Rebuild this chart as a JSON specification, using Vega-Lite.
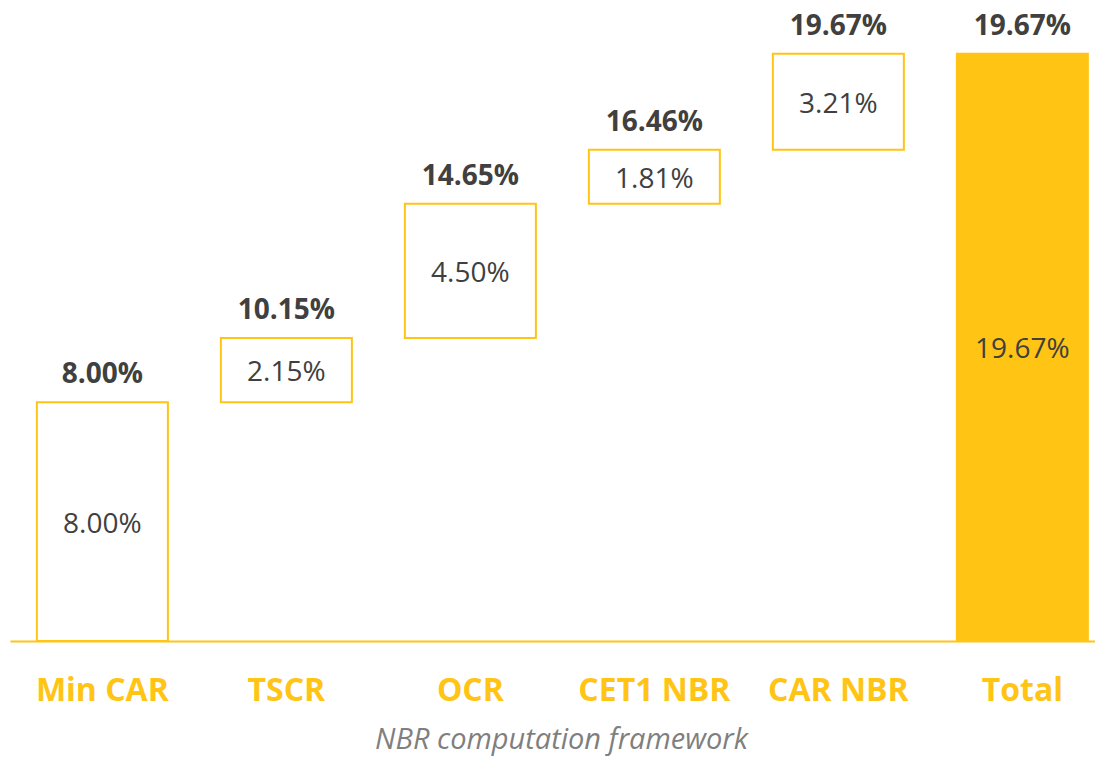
{
  "$schema": "https://vega.github.io/schema/vega-lite/v6.json",
  "width": 1085,
  "height": 597,
  "autosize": {"type": "none"},
  "padding": {"left": 10, "top": 44, "right": 0, "bottom": 116},
  "background": "white",
  "config": {"view": {"stroke": null}, "font": "Open Sans"},
  "data": {
    "values": [
      {"cat": "Min CAR", "start": 0, "end": 0.08, "delta": 0.08},
      {"cat": "TSCR", "start": 0.08, "end": 0.1015, "delta": 0.0215},
      {"cat": "OCR", "start": 0.1015, "end": 0.1465, "delta": 0.045},
      {"cat": "CET1 NBR", "start": 0.1465, "end": 0.1646, "delta": 0.0181},
      {"cat": "CAR NBR", "start": 0.1646, "end": 0.1967, "delta": 0.0321},
      {"cat": "Total", "start": 0, "end": 0.1967, "delta": 0.1967}
    ]
  },
  "encoding": {
    "x": {
      "field": "cat",
      "type": "nominal",
      "sort": ["Min CAR", "TSCR", "OCR", "CET1 NBR", "CAR NBR", "Total"],
      "scale": {"paddingInner": 0.288, "paddingOuter": 0.0924, "align": 0.79},
      "axis": {
        "title": "NBR computation framework",
        "titleFont": "Open Sans",
        "titleFontSize": 29,
        "titleFontStyle": "italic",
        "titleFontWeight": "normal",
        "titleColor": "#7F7F7F",
        "titleX": 551,
        "titleY": 107,
        "titleAlign": "center",
        "titleBaseline": "alphabetic",
        "labelFont": "Open Sans",
        "labelFontSize": 32,
        "labelFontWeight": "bold",
        "labelColor": "#FFC414",
        "labelAngle": 0,
        "labelBaseline": "alphabetic",
        "labelPadding": 59,
        "ticks": false,
        "tickSize": 0,
        "grid": false,
        "domainColor": "#FFC414",
        "domainWidth": 2
      }
    }
  },
  "layer": [
    {
      "mark": {"type": "bar", "stroke": "#FFC414", "strokeWidth": 2},
      "encoding": {
        "y": {"field": "start", "type": "quantitative", "scale": {"domain": [0, 0.2]}, "axis": null},
        "y2": {"field": "end"},
        "fill": {
          "condition": {"test": "datum.cat === 'Total'", "value": "#FFC414"},
          "value": "white"
        }
      }
    },
    {
      "transform": [
        {"fold": ["start", "end"], "as": ["edge", "level"]},
        {"aggregate": [{"op": "mean", "field": "level", "as": "mid"}], "groupby": ["cat", "delta"]}
      ],
      "mark": {"type": "text", "fontSize": 28, "color": "#404040", "baseline": "middle", "align": "center", "dy": 3},
      "encoding": {
        "y": {"field": "mid", "type": "quantitative"},
        "text": {"field": "delta", "type": "quantitative", "format": ".2%"}
      }
    },
    {
      "mark": {"type": "text", "fontSize": 28, "fontWeight": "bold", "color": "#404040", "baseline": "alphabetic", "align": "center", "dy": -19},
      "encoding": {
        "y": {"field": "end", "type": "quantitative"},
        "text": {"field": "end", "type": "quantitative", "format": ".2%"}
      }
    }
  ]
}
